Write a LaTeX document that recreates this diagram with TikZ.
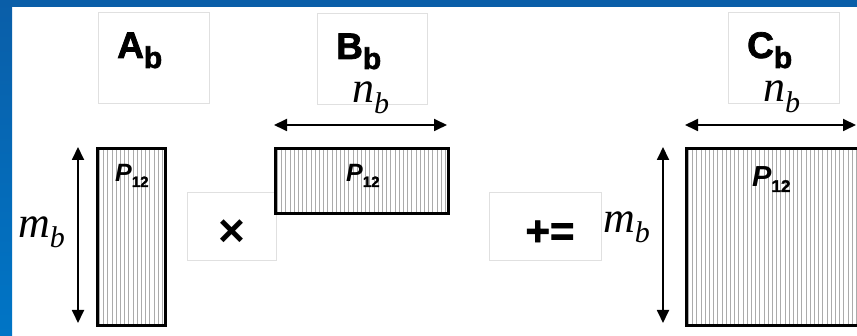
\documentclass[tikz,border=0pt]{standalone}
\usepackage{fontspec}
\setmainfont{Liberation Sans}
\newfontfamily\heavy{Liberation Sans}[BoldFeatures={FakeBold=2}]
\newfontfamily\tnr{Liberation Serif}
\usetikzlibrary{arrows.meta}
\definecolor{topblue}{HTML}{0A5EA8}
\definecolor{lowblue}{HTML}{0075C6}
\definecolor{boxgray}{HTML}{E0E0E0}
\definecolor{stripegray}{HTML}{ABABAB}
\begin{document}
\begin{tikzpicture}[x=1pt,y=-1pt,
  lblbox/.style={draw=boxgray, line width=0.8pt, inner sep=0pt, anchor=north west},
  matrect/.style={draw=black, fill=white, line width=3pt, anchor=north west, inner sep=0pt,
    path picture={\foreach \k in {0,...,60}{\draw[stripegray, line width=1.1pt]
      ([xshift=\k*4.2pt+2pt]path picture bounding box.south west) --
      ([xshift=\k*4.2pt+2pt]path picture bounding box.north west);}}},
  dimarrow/.style={{Triangle[length=13pt,width=12pt]}-{Triangle[length=13pt,width=12pt]}, line width=1.8pt},
  bigtxt/.style={font=\heavy\bfseries\fontsize{37}{40}\selectfont, inner sep=0pt, anchor=base west},
  dimtxt/.style={font=\tnr\itshape\fontsize{44}{46}\selectfont, inner sep=0pt, anchor=base west},
  ptxt/.style={font=\heavy\bfseries\itshape\fontsize{25}{28}\selectfont, inner sep=0pt, anchor=base west},
  optxt/.style={font=\heavy\bfseries\fontsize{42}{44}\selectfont, inner sep=0pt, anchor=center}]
\useasboundingbox (0,0) rectangle (857,336);
\clip (0,0) rectangle (857,336);
\fill[white] (0,0) rectangle (857,336);
\shade[top color=topblue, bottom color=lowblue] (0,0) rectangle (12,336);
\fill[topblue] (0,0) rectangle (857,7);

% label boxes
\node[lblbox, minimum width=111pt, minimum height=91pt] (Abox) at (98,12) {};
\node[lblbox, minimum width=89pt, minimum height=68pt] (timesbox) at (187,192) {};
\node[lblbox, minimum width=110pt, minimum height=91pt] (Bbox) at (317,13) {};
\node[lblbox, minimum width=112pt, minimum height=68pt] (eqbox) at (489,192) {};
\node[lblbox, minimum width=111pt, minimum height=91pt] (Cbox) at (728,12) {};

% matrices
\node[matrect, minimum width=68pt, minimum height=177pt] (A) at (96,147) {};
\node[matrect, minimum width=173pt, minimum height=65pt] (B) at (274,147) {};
\node[matrect, minimum width=192pt, minimum height=177pt] (C) at (685,147) {};

% labels
\node[bigtxt] (Alab) at (117,58) {A\raisebox{-10pt}{\fontsize{30}{32}\selectfont b}};
\node[bigtxt] (Blab) at (336,59) {B\raisebox{-10pt}{\fontsize{30}{32}\selectfont b}};
\node[bigtxt] (Clab) at (747,58) {C\raisebox{-10pt}{\fontsize{30}{32}\selectfont b}};

\node[dimtxt] (nB) at (352,103) {n\raisebox{-11pt}{\fontsize{30}{32}\selectfont b}};
\node[dimtxt] (nC) at (763,102) {n\raisebox{-11pt}{\fontsize{30}{32}\selectfont b}};
\node[dimtxt] (mA) at (18,238) {m\raisebox{-10pt}{\fontsize{30}{32}\selectfont b}};
\node[dimtxt] (mC) at (603,233) {m\raisebox{-10pt}{\fontsize{30}{32}\selectfont b}};

\node[ptxt] (pA) at (115,182) {P\raisebox{-5pt}{\upshape\fontsize{15}{16}\selectfont 12}};
\node[ptxt] (pB) at (346,182) {P\raisebox{-5pt}{\upshape\fontsize{15}{16}\selectfont 12}};
\node[ptxt, font=\heavy\bfseries\itshape\fontsize{29}{30}\selectfont] (pC) at (752,187) {P\raisebox{-5pt}{\upshape\fontsize{17}{18}\selectfont 12}};

\node[optxt, font=\bfseries\fontsize{46}{48}\selectfont] (times) at (232,233) {×};
\node[optxt] (pluseq) at (550,233) {+=};

% dimension arrows
\coordinate (a1) at (78,147); \coordinate (a2) at (78,323);
\coordinate (b1) at (274,125); \coordinate (b2) at (447,125);
\coordinate (c1) at (663,147); \coordinate (c2) at (663,323);
\coordinate (d1) at (685,125); \coordinate (d2) at (856,125);
\draw[dimarrow] (a1) -- (a2);
\draw[dimarrow] (b1) -- (b2);
\draw[dimarrow] (c1) -- (c2);
\draw[dimarrow] (d1) -- (d2);
\end{tikzpicture}
\end{document}
